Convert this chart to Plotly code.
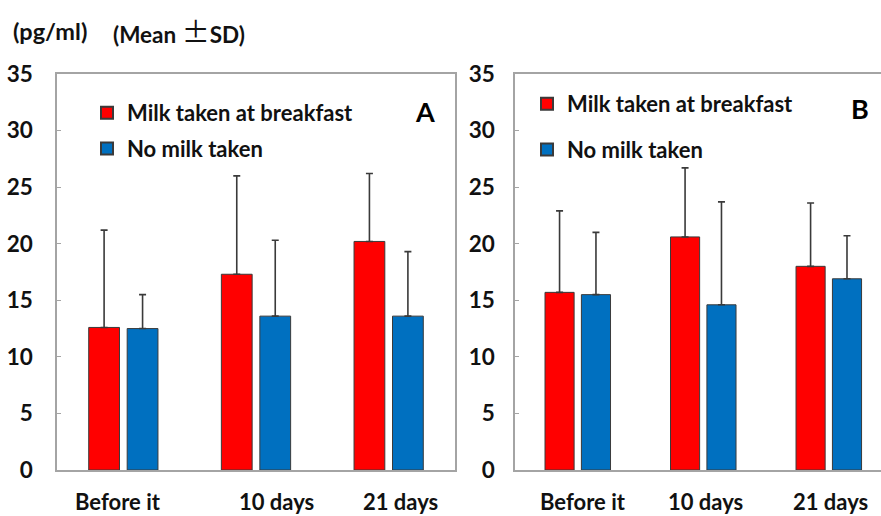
import plotly.graph_objects as go

# Time points on the x axis
categories = ["Before it", "10 days", "21 days"]

# Panel A: means and standard deviations (pg/ml)
a_milk_mean = [12.6, 17.3, 20.2]
a_milk_sd = [8.6, 8.7, 6.0]
a_none_mean = [12.5, 13.6, 13.6]
a_none_sd = [3.0, 6.7, 5.7]

# Panel B: means and standard deviations (pg/ml)
b_milk_mean = [15.7, 20.6, 18.0]
b_milk_sd = [7.2, 6.1, 5.6]
b_none_mean = [15.5, 14.6, 16.9]
b_none_sd = [5.5, 9.1, 3.8]

series_names = ["Milk taken at breakfast", "No milk taken"]
y_ticks = [0, 5, 10, 15, 20, 25, 30, 35]

RED = "#FF0000"
BLUE = "#0070C0"
FONT = "Lato"
TXT = "#111111"
W, H = 881, 516


def px_x(p):
    return p / W


def px_y(p):
    return 1 - p / H


def bar(name, x, mean, sd, color, xa, ya, legend):
    return go.Bar(
        name=name, x=x, y=mean, xaxis=xa, yaxis=ya, legend=legend,
        marker=dict(color=color, line=dict(color="#3a3a3a", width=1)),
        error_y=dict(type="data", array=sd, arrayminus=[0] * len(sd),
                     symmetric=False, color="#3a3a3a", thickness=1.6, width=3.5),
        hoverinfo="skip",
    )


fig = go.Figure()
fig.add_trace(bar(series_names[0], categories, a_milk_mean, a_milk_sd, RED, "x", "y", "legend"))
fig.add_trace(bar(series_names[1], categories, a_none_mean, a_none_sd, BLUE, "x", "y", "legend"))
fig.add_trace(bar(series_names[0], categories, b_milk_mean, b_milk_sd, RED, "x2", "y2", "legend2"))
fig.add_trace(bar(series_names[1], categories, b_none_mean, b_none_sd, BLUE, "x2", "y2", "legend2"))

y_top, y_bot = px_y(74), px_y(470)
frame = "#a4a4a4"
tickfont = dict(family=FONT, size=22.5, color=TXT, weight="bold")

common_y = dict(range=[0, 35], tickvals=y_ticks, ticks="inside", ticklen=4,
                tickcolor=frame, showgrid=False, zeroline=False, showline=True,
                linecolor=frame, linewidth=1.5, tickfont=tickfont, automargin=False,
                domain=[y_bot, y_top], fixedrange=True)
common_x = dict(type="category", showticklabels=False, ticks="", showgrid=False,
                zeroline=False, showline=True, linecolor=frame, linewidth=1.5,
                mirror=True, automargin=False, fixedrange=True)

leg_font = dict(family=FONT, size=22, color=TXT, weight="bold")
legend_common = dict(font=leg_font, bgcolor="rgba(0,0,0,0)", borderwidth=0,
                     traceorder="grouped", xanchor="left", yanchor="top",
                     itemsizing="constant")

fig.update_layout(
    width=W, height=H,
    margin=dict(l=0, r=0, t=0, b=0, autoexpand=False),
    paper_bgcolor="white", plot_bgcolor="white",
    barmode="group", bargap=0.42, bargroupgap=0.2,
    showlegend=True,
    xaxis=dict(common_x, domain=[px_x(57), px_x(455)], range=[-0.5, 2.5], anchor="y"),
    yaxis=dict(common_y, anchor="x", mirror=True, ticklabelstandoff=18),
    xaxis2=dict(common_x, domain=[px_x(515), 1.0], range=[-0.5, 2.416], anchor="y2"),
    yaxis2=dict(common_y, anchor="x2", mirror=False, ticklabelstandoff=14),
    legend=dict(legend_common, tracegroupgap=4, x=px_x(87), y=px_y(92)),
    legend2=dict(legend_common, tracegroupgap=14, x=px_x(527), y=px_y(83)),
)

# Give each series its own legend group so the gap spaces the entries
for i, tr in enumerate(fig.data):
    tr.legendgroup = f"g{i}"

ann = []
# Category labels under each panel
label_font = dict(family=FONT, size=22, color=TXT, weight="bold")
for xref, shifts in (("x", [-5, 20, 12]), ("x2", [5, 2, 2])):
    for cat, s in zip(categories, shifts):
        ann.append(dict(x=cat, xref=xref, y=0, yref="paper", text=cat,
                        showarrow=False, xshift=s, font=label_font, borderpad=0,
                        xanchor="center", yanchor="bottom"))

# Panel letters
letter_font = dict(family=FONT, size=27, color="#000000", weight="bold")
ann.append(dict(x=px_x(425), y=px_y(112), xref="paper", yref="paper", text="A",
                showarrow=False, font=letter_font, xanchor="center", yanchor="middle"))
ann.append(dict(x=px_x(860), y=px_y(108), xref="paper", yref="paper", text="B",
                showarrow=False, font=letter_font, xanchor="center", yanchor="middle"))

# Units header
ann.append(dict(x=px_x(11), y=px_y(31), xref="paper", yref="paper", text="(pg/ml)",
                showarrow=False, font=dict(label_font, size=23.5),
                xanchor="left", yanchor="middle"))
pm = ("<span style=\"font-family:'Noto Sans CJK SC';font-weight:normal;"
      "font-size:28px\">\u00b1</span>")
ann.append(dict(x=px_x(111), y=px_y(31), xref="paper", yref="paper",
                text="(Mean " + pm + "SD)",
                showarrow=False, font=dict(label_font, size=22.5),
                xanchor="left", yanchor="middle"))

fig.update_layout(annotations=ann)

fig.write_html("out.html")
